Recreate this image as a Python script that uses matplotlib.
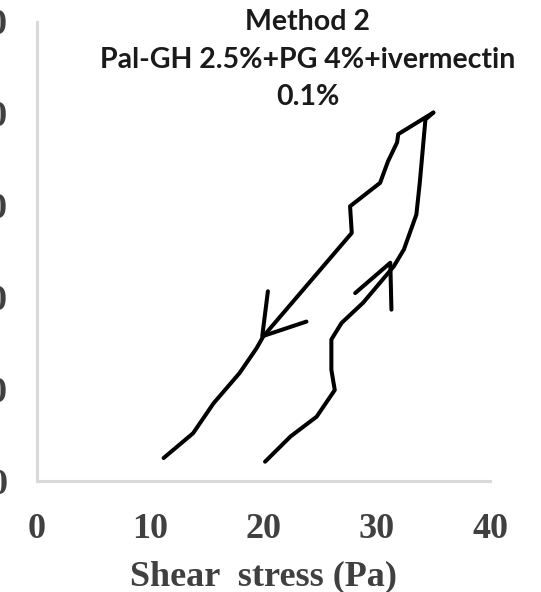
import matplotlib
matplotlib.use("Agg")
import matplotlib.pyplot as plt

# forward (up) curve
up_x = [20.15, 22.4, 24.7, 26.3, 26.0, 26.0, 26.9, 28.8, 31.5, 32.4, 33.5, 33.8, 34.3, 35.0]
up_y = [4.2, 9.7, 14.0, 19.8, 24.2, 30.8, 34.4, 38.8, 46.7, 50.4, 58.0, 64.9, 78.7, 80.2]

# backward (down) curve
down_x = [35.0, 31.9, 31.8, 31.0, 30.3, 27.65, 27.8, 20.0, 19.4, 17.9, 15.6, 13.8, 11.2]
down_y = [80.2, 75.5, 73.7, 69.6, 64.9, 59.8, 54.0, 31.5, 28.9, 23.5, 16.9, 10.4, 5.0]

# hand drawn arrow heads: tip and two barbs
up_arrow = [(28.1, 40.9), (31.2, 47.5), (31.3, 37.3)]
down_arrow = [(20.4, 41.3), (19.9, 31.5), (23.8, 34.7)]

x_ticks = [0, 10, 20, 30, 40]
y_ticks = [0, 20, 40, 60, 80, 100]

title = "Method 2\nPal-GH 2.5%+PG 4%+ivermectin\n0.1%"
xlabel = "Shear  stress (Pa)"

fig = plt.figure(figsize=(5.41, 5.92), dpi=100)
ax = fig.add_axes([0.0678, 0.1875, 0.838, 0.776])

lw = 2.9
ax.plot(up_x, up_y, color="black", lw=lw, solid_capstyle="round", solid_joinstyle="round")
ax.plot(down_x, down_y, color="black", lw=lw, solid_capstyle="round", solid_joinstyle="round")
for arrow in (up_arrow, down_arrow):
    ax.plot([p[0] for p in arrow], [p[1] for p in arrow], color="black", lw=lw,
            solid_capstyle="round", solid_joinstyle="round")

ax.set_xlim(0, 40)
ax.set_ylim(0, 100)
ax.set_xticks(x_ticks)
ax.set_yticks(y_ticks)

tick_font = dict(family="Liberation Serif", weight="bold", size=26, color="#404040")
ax.set_xticklabels([str(t) for t in x_ticks], fontdict=tick_font)
ax.set_yticklabels([str(t) for t in y_ticks], fontdict=tick_font)
ax.tick_params(axis="x", length=0, pad=23)
ax.tick_params(axis="y", length=0, pad=21)

for s in ["top", "right"]:
    ax.spines[s].set_visible(False)
for s in ["left", "bottom"]:
    ax.spines[s].set_color("#d9d9d9")
    ax.spines[s].set_linewidth(2.2)

ax.set_xlabel(xlabel, family="Liberation Serif", weight="bold", size=26,
              color="#404040", labelpad=10)

fig.text(0.569, 0.899, title, ha="center", va="center", family="Lato",
         weight="bold", size=20.5, linespacing=1.55, color="#1a1a1a")

fig.savefig("out.png", dpi=100)
